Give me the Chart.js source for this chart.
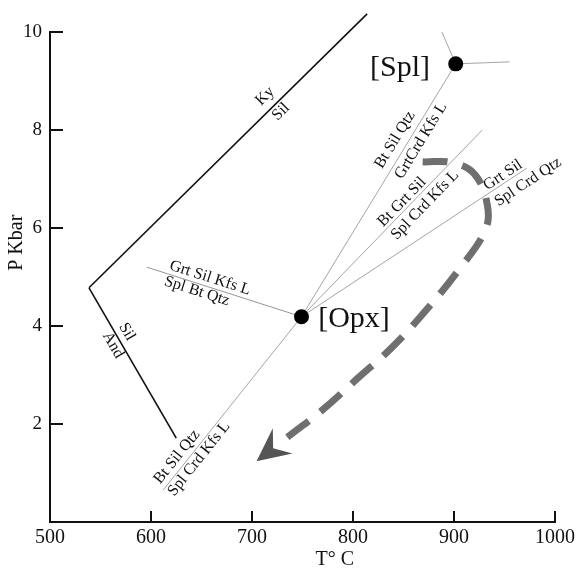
<!DOCTYPE html>
<html><head><meta charset="utf-8">
<script src="https://cdn.jsdelivr.net/npm/chart.js@4/dist/chart.umd.min.js"></script>
<style>html,body{margin:0;padding:0;background:#fff}#wrap{width:582px;height:569px;position:relative}</style>
</head><body><div id="wrap"><canvas id="c"></canvas></div>
<script>
// ---- axes ----
const xTicks = [500, 600, 700, 800, 900, 1000];
const yTicks = [2, 4, 6, 8, 10];
const xTitle = 'T° C';
const yTitle = 'P Kbar';
// ---- Al2SiO5 boundaries (T °C, P kbar) ----
const kySil  = [{x: 538.6, y: 4.78}, {x: 814, y: 10.37}];
const andSil = [{x: 538.6, y: 4.78}, {x: 625, y: 1.71}];
// ---- invariant points ----
const invariantPoints = [{x: 901.7, y: 9.35}, {x: 749, y: 4.19}];
const invariantNames  = ['[Spl]', '[Opx]'];
const invariantLabelAt = [{x: 846.5, y: 9.27}, {x: 801, y: 4.14}];
// ---- univariant reactions ----
const rSplOpx   = [{x: 901.7, y: 9.35}, {x: 749, y: 4.19}];
const rSplUp    = [{x: 901.7, y: 9.35}, {x: 888, y: 10.0}];
const rSplRight = [{x: 901.7, y: 9.35}, {x: 955, y: 9.39}];
const rOpxLeft  = [{x: 749, y: 4.19}, {x: 596, y: 5.2}];
const rOpxDown  = [{x: 749, y: 4.19}, {x: 612, y: 0.65}];
const rOpxMid   = [{x: 749, y: 4.19}, {x: 928, y: 8.0}];
const rOpxRight = [{x: 749, y: 4.19}, {x: 972, y: 7.22}];
// ---- P-T path (dashed arrow), listed from the arrow end back to its start ----
const ptPath = [
  {x: 735, y: 1.73}, {x: 770, y: 2.29}, {x: 805, y: 2.94}, {x: 839, y: 3.57},
  {x: 871, y: 4.29}, {x: 906, y: 5.18}, {x: 931, y: 5.96}, {x: 933, y: 6.47},
  {x: 921, y: 7.08}, {x: 899, y: 7.33}, {x: 869, y: 7.35}
];
// ---- reaction labels (text, line they follow, centre in data units) ----
const reactionLabels = [
  {text: 'Ky',  line: 'kySil', x: 712.9, y: 8.69},
  {text: 'Sil', line: 'kySil', x: 728.7, y: 8.37},
  {text: 'Sil', line: 'andSil', x: 576.2, y: 3.88},
  {text: 'And', line: 'andSil', x: 562.4, y: 3.61},
  {text: 'Grt Sil Kfs L', line: 'rOpxLeft', x: 658.4, y: 4.98},
  {text: 'Spl Bt Qtz',    line: 'rOpxLeft', x: 645.5, y: 4.71},
  {text: 'Bt Sil Qtz',    line: 'rSplOpx', x: 841.6, y: 7.80},
  {text: 'GrtCrd Kfs L',  line: 'rSplOpx', x: 867.3, y: 7.78},
  {text: 'Bt Grt Sil',    line: 'rOpxMid', x: 848.5, y: 6.53},
  {text: 'Spl Crd Kfs L', line: 'rOpxMid', x: 871.3, y: 6.47},
  {text: 'Grt Sil',       line: 'rOpxRight', x: 948.5, y: 7.08},
  {text: 'Spl Crd Qtz',   line: 'rOpxRight', x: 973.3, y: 6.94},
  {text: 'Bt Sil Qtz',    line: 'rOpxDown', x: 625.7, y: 1.33},
  {text: 'Spl Crd Kfs L', line: 'rOpxDown', x: 647.5, y: 1.29}
];

const SERIF = '"Liberation Serif", "DejaVu Serif", serif';
Chart.defaults.color = '#111';
Chart.defaults.font.family = SERIF;

function boundary(id, data, color, width) {
  return {id, data, showLine: true, borderColor: color, borderWidth: width, order: 2,
          pointRadius: 0, fill: false, clip: false, tension: 0};
}

const datasets = [
  {id: 'inv', data: invariantPoints, showLine: false, pointRadius: 7.5, order: 0,
   pointBackgroundColor: '#000', pointBorderColor: '#000', pointBorderWidth: 0, clip: false},
  boundary('kySil', kySil, '#111', 1.6),
  boundary('andSil', andSil, '#111', 1.6),
  boundary('rSplOpx', rSplOpx, '#9a9a9a', 0.9),
  boundary('rSplUp', rSplUp, '#9a9a9a', 0.9),
  boundary('rSplRight', rSplRight, '#9a9a9a', 0.9),
  boundary('rOpxLeft', rOpxLeft, '#8a8a8a', 0.9),
  boundary('rOpxDown', rOpxDown, '#9a9a9a', 0.9),
  boundary('rOpxMid', rOpxMid, '#9a9a9a', 0.9),
  boundary('rOpxRight', rOpxRight, '#9a9a9a', 0.9),
  {id: 'ptPath', data: ptPath, showLine: true, borderColor: '#6f6f6f', borderWidth: 7, order: 1,
   borderDash: [27, 15], borderCapStyle: 'butt', tension: 0.4, pointRadius: 0, clip: false}
];

function pix(chart, p) {
  return {x: chart.scales.x.getPixelForValue(p.x), y: chart.scales.y.getPixelForValue(p.y)};
}

const decor = {
  id: 'decor',
  afterDraw(chart) {
    const ctx = chart.ctx, xs = chart.scales.x, ys = chart.scales.y, ca = chart.chartArea;
    ctx.save();
    // inward tick marks
    ctx.strokeStyle = '#111'; ctx.lineWidth = 2;
    xs.ticks.forEach(t => {
      if (t.value === xs.min) return;
      const px = xs.getPixelForValue(t.value);
      ctx.beginPath(); ctx.moveTo(px, ca.bottom); ctx.lineTo(px, ca.bottom - 11); ctx.stroke();
    });
    ys.ticks.forEach(t => {
      if (t.value === 0) return;
      const py = ys.getPixelForValue(t.value);
      ctx.beginPath(); ctx.moveTo(ca.left, py); ctx.lineTo(ca.left + 13, py); ctx.stroke();
    });
    // axis titles
    ctx.fillStyle = '#111'; ctx.textAlign = 'center'; ctx.textBaseline = 'middle';
    ctx.font = '20px ' + SERIF;
    ctx.fillText(xTitle, xs.getPixelForValue(782), ca.bottom + 38);
    ctx.save();
    ctx.translate(17, ys.getPixelForValue(5.7)); ctx.rotate(-Math.PI / 2);
    ctx.fillText(yTitle, 0, 0);
    ctx.restore();
    // arrow head at the end of the P-T path (first point of ptPath)
    const a = pix(chart, ptPath[1]), b = pix(chart, ptPath[0]);
    let ux = b.x - a.x, uy = b.y - a.y; const L = Math.hypot(ux, uy); ux /= L; uy /= L;
    const nx = -uy, ny = ux;
    const tip = {x: b.x + ux * 39, y: b.y + uy * 39};
    ctx.fillStyle = '#555';
    ctx.beginPath();
    ctx.moveTo(tip.x, tip.y);
    ctx.lineTo(tip.x - ux * 33 + nx * 16, tip.y - uy * 33 + ny * 16);
    ctx.lineTo(tip.x - ux * 21, tip.y - uy * 21);
    ctx.lineTo(tip.x - ux * 33 - nx * 16, tip.y - uy * 33 - ny * 16);
    ctx.closePath(); ctx.fill();
    // reaction labels
    ctx.fillStyle = '#111';
    ctx.font = '16px ' + SERIF;
    reactionLabels.forEach(l => {
      const ln = datasets.find(d => d.id === l.line).data;
      const p0 = pix(chart, ln[0]), p1 = pix(chart, ln[ln.length - 1]);
      let ang = Math.atan2(p1.y - p0.y, p1.x - p0.x);
      if (ang > Math.PI / 2) ang -= Math.PI;
      if (ang < -Math.PI / 2) ang += Math.PI;
      const c = pix(chart, l);
      ctx.save();
      ctx.translate(c.x, c.y); ctx.rotate(ang);
      ctx.fillText(l.text, 0, 0);
      ctx.restore();
    });
    // invariant point names
    ctx.font = '30px ' + SERIF;
    invariantNames.forEach((name, i) => {
      const c = pix(chart, invariantLabelAt[i]);
      ctx.fillText(name, c.x, c.y);
    });
    ctx.restore();
  }
};

new Chart(document.getElementById('c'), {
  type: 'scatter',
  data: {datasets},
  options: {
    responsive: true, maintainAspectRatio: false, animation: false,
    layout: {padding: {top: 32, right: 27, bottom: 0, left: 0}},
    plugins: {legend: {display: false}, tooltip: {enabled: false}},
    scales: {
      x: {
        type: 'linear', min: 500, max: 1000,
        afterBuildTicks: s => { s.ticks = xTicks.map(v => ({value: v})); },
        afterFit: s => { s.height = 47; },
        ticks: {font: {size: 20, family: SERIF}, color: '#111', padding: 4, maxRotation: 0,
                callback: v => String(v)},
        grid: {display: true, drawOnChartArea: false, drawTicks: false},
        border: {display: true, color: '#111', width: 2},
        title: {display: false, text: xTitle}
      },
      y: {
        type: 'linear', min: 0, max: 10,
        afterBuildTicks: s => { s.ticks = [0].concat(yTicks).map(v => ({value: v})); },
        afterFit: s => { s.width = 50; },
        ticks: {font: {size: 19, family: SERIF}, color: '#111', padding: 8,
                callback: v => (v === 0 ? '' : String(v))},
        grid: {display: true, drawOnChartArea: false, drawTicks: false},
        border: {display: true, color: '#111', width: 2},
        title: {display: false, text: yTitle}
      }
    }
  },
  plugins: [decor]
});
</script>
</body></html>
